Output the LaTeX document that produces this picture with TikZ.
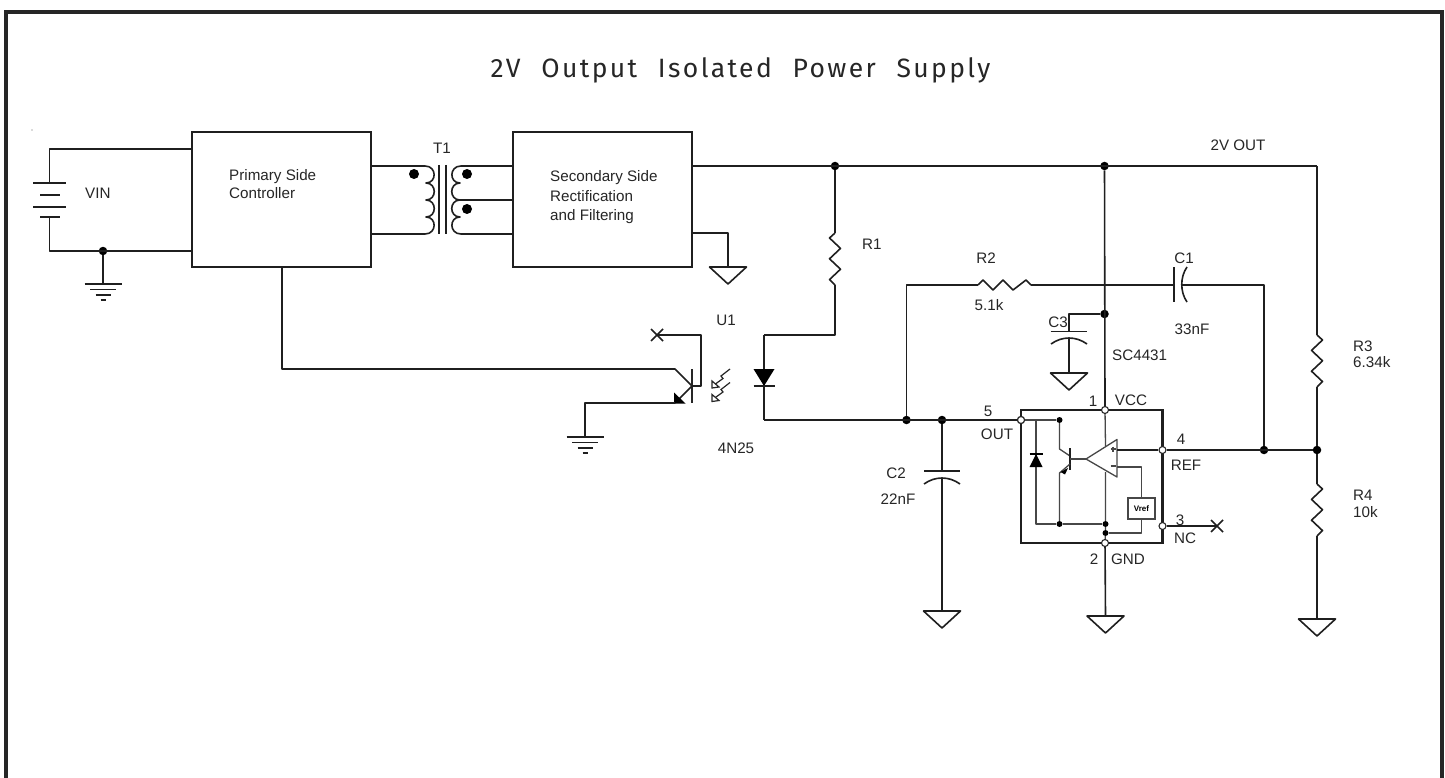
\documentclass[tikz,border=0pt]{standalone}
\usepackage{fontspec}
\setmainfont{Liberation Sans}
\newfontfamily\titlefont[LetterSpace=9,WordSpace=2.2]{Fira Sans}
\tikzset{
  wire/.style={line width=1.6pt,draw=black!88,line join=round},
  inner/.style={line width=1.3pt,draw=black!72,line join=round},
  dot/.style={circle,fill=black,inner sep=0pt,minimum size=8.5pt},
  sdot/.style={circle,fill=black,inner sep=0pt,minimum size=6pt},
  pin/.style={circle,draw=black!85,fill=white,line width=1.1pt,inner sep=0pt,minimum size=7pt},
  lbl/.style={font=\fontsize{15.2}{17}\selectfont,text=black!85,inner sep=0pt,text height=10.9pt,text depth=0pt},
  lbll/.style={lbl,anchor=west},
  blockbox/.style={draw=black!88,line width=1.6pt,fill=none,inner sep=0pt},
  chip/.style={draw=black!88,line width=2.1pt,inner sep=0pt}
}
\newcommand{\gtri}[3]{% name x y
  \coordinate (#1) at (#2,#3);
  \draw[wire,fill=white] (#2-18.5,#3) -- (#2+18.5,#3) -- (#2,#3+17) -- cycle;}
\newcommand{\gbars}[3]{%
  \coordinate (#1) at (#2,#3);
  \draw[wire] (#2-18.5,#3) -- (#2+18.5,#3);
  \draw[wire] (#2-13,#3+5.5) -- (#2+13,#3+5.5);
  \draw[wire] (#2-7.5,#3+11) -- (#2+7.5,#3+11);
  \draw[wire] (#2-2.5,#3+16) -- (#2+2.5,#3+16);}
\newcommand{\rzig}[3]{% x ytop sign
  (#1,#2) -- ++(#3*5.5,5) -- ++(-#3*11,10.4) -- ++(#3*11,10.4) -- ++(-#3*11,10.4) -- ++(#3*11,10.4) -- ++(-#3*5.5,5.4)}
\newcommand{\ledarrow}[2]{%
  \draw[line width=1.2pt,draw=black!85] (#1+18,#2-13) -- (#1+9,#2-6) -- (#1+11,#2-3.5) -- (#1+2,#2+3);
  \draw[line width=1.2pt,draw=black!85,fill=white] (#1,#2+6) -- (#1,#2-1) -- (#1+7,#2+5) -- cycle;}
\begin{document}
\begin{tikzpicture}[x=1pt,y=-1pt]
\useasboundingbox (0,0) rectangle (1445,778);
\fill[white] (0,0) rectangle (1445,778);
% frame
\draw[line width=4pt,draw=black!85] (6,778) -- (6,12) -- (1442,12) -- (1442,778);
% title
\node (title) at (740.5,70) [inner sep=0pt,text=black!85] {\titlefont\fontsize{26.5}{30}\selectfont 2V Output Isolated Power Supply};
\fill[black!60] (32,130) circle (0.7pt);

% coordinates
\node[blockbox,minimum width=179pt,minimum height=135pt] (prim) at (281.5,199.5) {};
\node[blockbox,minimum width=179pt,minimum height=135pt] (sec) at (602.5,199.5) {};
\coordinate (pT) at (371,166); \coordinate (pB) at (371,234);
\coordinate (sT) at (513,166); \coordinate (sM) at (513,200); \coordinate (sB) at (513,234);

% battery
\coordinate (bt) at (49.5,183);
\coordinate (bb) at (49.5,217);
\node[dot] (jv) at (103,251) {};
\draw[wire] (192,149) -| (bt);
\draw[wire] (192,251) -| (bb);
\draw[wire] (33,183) -- (66,183);
\draw[wire] (40,195) -- (60,195);
\draw[wire] (33,207) -- (66,207);
\draw[wire] (40,217) -- (60,217);
\gbars{g1}{103}{284}
\draw[wire] (jv) -- (g1);
\node[lbll] (vin) at (85,193) {VIN};

% transformer
\draw[wire] (pT) -- (425,166)
  .. controls (437,166) and (437,183) .. (426,183) .. controls (437,183) and (437,200) .. (426,200)
  .. controls (437,200) and (437,217) .. (426,217) .. controls (437,217) and (437,234) .. (425,234) -- (pB);
\draw[wire] (sT) -- (461,166)
  .. controls (449,166) and (449,183) .. (460,183) .. controls (449,183) and (449,200) .. (460,200)
  .. controls (449,200) and (449,217) .. (460,217) .. controls (449,217) and (449,234) .. (461,234) -- (sB);
\draw[wire] (460,200) -- (sM);
\draw[wire] (439,165) -- (439,234);
\draw[wire] (446,165) -- (446,234);
\fill[black] (414,174) circle (5pt);
\fill[black] (467,174) circle (5pt);
\fill[black] (467,209) circle (5pt);
\node[lbl] (t1) at (442,148) {T1};

% block text
\node[lbll] (p1t) at (229,175.5) {Primary Side};
\node[lbll] (p2t) at (229,193.5) {Controller};
\node[lbll] (s1) at (550,176) {Secondary Side};
\node[lbll] (s2) at (550,196) {Rectification};
\node[lbll] (s3) at (550,215) {and Filtering};

% rail
\coordinate (railL) at (692,166);
\node[dot] (j1) at (835,166) {};
\node[dot] (j2) at (1104.5,166) {};
\coordinate (railR) at (1317,166);
\draw[wire] (railL) -- (railR);
\node[lbl] (out) at (1238,145) {2V OUT};
% sec gnd
\gtri{g2}{728}{267}
\draw[wire] (692,233) -| (g2);

% R1
\coordinate (r1t) at (835,233);
\coordinate (r1b) at (835,285);
\coordinate (d1) at (764,335);
\draw[wire] (j1) -- (r1t);
\draw[wire] \rzig{835}{233}{-1};
\draw[wire] (r1b) |- (d1);
\node[lbll] (r1l) at (862,244) {R1};
% LED
\coordinate (ledtop) at (764,369);
\coordinate (ledk) at (764,386);
\coordinate (ledb) at (764,420);
\draw[wire] (d1) -- (ledtop);
\fill[black] (753.5,369) -- (774.5,369) -- (764,386) -- cycle;
\draw[wire] (753.5,386) -- (774.5,386);
\draw[wire] (ledk) -- (ledb);
\node[dot] (j3) at (906.5,420) {};
\node[dot] (j4) at (942,420) {};
\node[pin] (p5) at (1021,420) {};
\draw[wire] (ledb) -- (p5);

% opto transistor
\coordinate (bsl) at (282,267);
\coordinate (bc) at (675,369);
\coordinate (tb) at (692,386);
\coordinate (te) at (675,403);
\draw[wire] (bsl) |- (bc) -- (tb);
\draw[line width=1.7pt,draw=black!85] (692,369) -- (692,403);
\draw[wire] (tb) -- (te);
\fill[black] (674,392.5) -- (685.5,403.5) -- (674,403.5) -- cycle;
\gbars{g3}{585}{437}
\draw[wire] (te) -| (g3);
\coordinate (xc) at (657,335);
\coordinate (col) at (701,386);
\draw[wire] (tb) -- (col) |- (xc);
\draw[wire] (651,329) -- (663,341) (651,341) -- (663,329);
\ledarrow{712}{382}
\ledarrow{712}{395.5}
\node[lbl] (u1) at (726,320) {U1};
\node[lbl] (n25) at (736,448) {4N25};

% feedback
\coordinate (fbl) at (906.5,285);
\coordinate (r2l) at (978,285);
\coordinate (r2r) at (1031,285);
\coordinate (c1l) at (1174,285);
\coordinate (c1r) at (1182,285);
\draw[wire] (j3) -- (fbl) -- (r2l);
\draw[wire] (r2l) -- ++(5,-5) -- ++(10,10) -- ++(10,-10) -- ++(10,10) -- ++(13,-10) -- (r2r);
\draw[wire] (r2r) -- (c1l);
\draw[wire] (1174,267) -- (1174,302);
\draw[wire] (1187,267) .. controls (1180,277) and (1180,292) .. (1187,302);
\node[dot] (j5) at (1264,450) {};
\node[dot] (j6) at (1317,450) {};
\draw[wire] (c1r) -| (j5);
\node[lbl] (r2n) at (986,258) {R2};
\node[lbl] (r2v) at (989,305) {5.1k};
\node[lbl] (c1n) at (1184,258) {C1};
\node[lbl] (c1v) at (1192,329) {33nF};

% C3
\node[dot] (j7) at (1104.5,314) {};
\coordinate (c3t) at (1069,331);
\coordinate (c3b) at (1069,338);
\draw[wire] (j7) -| (c3t);
\draw[wire] (1050.5,331.5) -- (1087,331.5);
\draw[wire] (1051,344) .. controls (1062,336) and (1076,336) .. (1087,344);
\gtri{g4}{1069}{373}
\draw[wire] (c3b) -- (g4);
\node[lbl] (c3n) at (1058,322) {C3};
\node[lbll] (sc) at (1112,355) {SC4431};

% C2
\coordinate (c2t) at (942,471);
\coordinate (c2b) at (942,478);
\draw[wire] (j4) -- (c2t);
\draw[wire] (924,471) -- (960,471);
\draw[wire] (924,484) .. controls (935,476) and (949,476) .. (960,484);
\gtri{g5}{942}{611}
\draw[wire] (c2b) -- (g5);
\node[lbl] (c2n) at (896,473) {C2};
\node[lbl] (c2v) at (898,499) {22nF};

% chip
\node[chip,minimum width=141.5pt,minimum height=133pt] (ic) at (1091.75,476.5) {};
\node[pin] (p1) at (1105,410) {};
\node[pin] (p2) at (1105,543) {};
\node[pin] (p3) at (1162.5,526) {};
\node[pin] (p4) at (1162.5,450) {};
\node[pin] (p5b) at (1021,420) {};
\draw[wire] (j2) -- (p1);
\gtri{g6}{1105.5}{616}
\draw[wire] (p2) -- (g6);
\coordinate (xn) at (1217,526);
\draw[wire] (p3) -- (xn);
\draw[wire] (1211,520) -- (1223,532) (1211,532) -- (1223,520);
\draw[wire] (p4) -- (j6);

% chip inside
\node[sdot] (k1) at (1059.5,420) {};
\node[sdot] (k2) at (1059.5,524) {};
\node[sdot] (k3) at (1105.5,524) {};
\node[sdot] (k4) at (1105.5,533) {};
\coordinate (dd) at (1036,420);
\coordinate (db) at (1036,524);
\draw[inner] (p5b) -- (k1);
\draw[inner] (dd) -- (db) -- (k2) -- (k3);
\fill[black] (1036,454) -- (1042.5,467) -- (1029.5,467) -- cycle;
\draw[inner,draw=black] (1029.5,454) -- (1042.5,454);
\draw[inner] (k1) -- (1059.5,449) -- (1070,456);
\draw[wire] (1070,448) -- (1070,470);
\draw[inner] (1070,464) -- (1059.5,473) -- (k2);
\fill[black] (1060.5,472) -- (1068,468) -- (1065,474.5) -- cycle;
\coordinate (oat) at (1086,459);
\draw[inner] (1070,459) -- (oat);
\draw[inner] (oat) -- (1117,439.5) -- (1117,477) -- cycle;
\draw[inner] (p1) -- (1105.5,446);
\draw[inner] (1105.5,472) -- (k3) -- (k4) -- (p2);
\draw[inner,draw=black!88] (1117,450) -- (p4);
\draw[inner] (1110.5,449) -- (1115.5,449) (1113,446.5) -- (1113,451.5);
\draw[inner] (1110.5,466) -- (1115.5,466);
\node[draw=black!72,line width=1.2pt,minimum width=27pt,minimum height=21pt,inner sep=0pt] (vref) at (1141.5,508.5) {\fontsize{8}{8}\selectfont\bfseries Vref};
\draw[inner] (1117,467) -| (vref.north);
\draw[inner] (vref.south) |- (k4);

% pin labels
\node[lbl] (n1) at (1093,401) {1};
\node[lbl] (n2) at (1131,400) {VCC};
\node[lbl] (n3) at (988,411) {5};
\node[lbl] (n4) at (997,434) {OUT};
\node[lbl] (n5) at (1181,439) {4};
\node[lbl] (n6) at (1186,465) {REF};
\node[lbl] (n7) at (1180,520) {3};
\node[lbl] (n8) at (1185,538) {NC};
\node[lbl] (n9) at (1094,559) {2};
\node[lbl] (n10) at (1128,559) {GND};

% R3 R4
\coordinate (r3t) at (1317,335);
\coordinate (r3b) at (1317,387);
\coordinate (r4t) at (1317,484);
\coordinate (r4b) at (1317,536);
\draw[wire] (railR) -- (r3t);
\draw[wire] \rzig{1317}{335}{1};
\draw[wire] (r3b) -- (j6) -- (r4t);
\draw[wire] \rzig{1317}{484}{1};
\gtri{g7}{1317}{619}
\draw[wire] (r4b) -- (g7);
\node[lbll] (r3n) at (1353,346) {R3};
\node[lbll] (r3v) at (1353,362) {6.34k};
\node[lbll] (r4n) at (1353,495) {R4};
\node[lbll] (r4v) at (1353,512) {10k};
\end{tikzpicture}
\end{document}
